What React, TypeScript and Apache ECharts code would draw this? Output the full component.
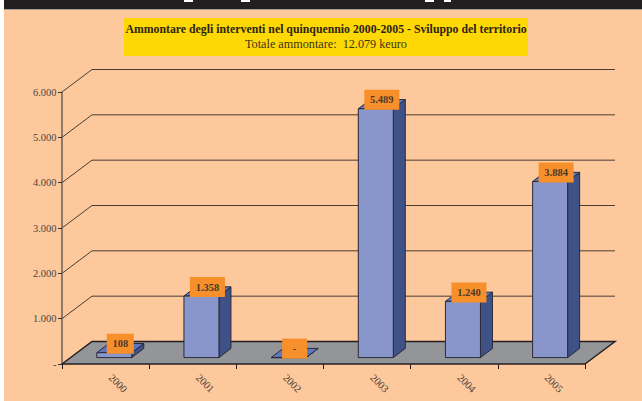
import React, { useEffect, useRef } from "react";
import * as echarts from "echarts";

const years = ["2000", "2001", "2002", "2003", "2004", "2005"];
const amounts = [108, 1358, 0, 5489, 1240, 3884];
const wallTicks = [1000, 2000, 3000, 4000, 5000, 6000];
const floorTick = [0];
const titleMain = "Ammontare degli interventi nel quinquennio 2000-2005 - Sviluppo del territorio";
const titleSub = "Totale ammontare:  12.079 keuro";

const FONT = "'Liberation Serif', serif";
const fmt = (v: number) => (v === 0 ? "-" : String(v).replace(/\B(?=(\d{3})+$)/g, "."));

export default function App() {
  const ref = useRef<HTMLDivElement>(null);
  useEffect(() => {
    const chart = echarts.init(ref.current!, null, { renderer: "svg" });
    const DX = 30, DY = 22.5;
    const wallRender = (_p: any, api: any) => {
      const [x, y] = api.coord([0, api.value(0)]);
      const cs = _p.coordSys;
      const left = cs.x, right = cs.x + cs.width;
      return {
        type: "polyline",
        shape: { points: [[left, y], [left + DX, y - DY], [right + DX, y - DY]] },
        style: { fill: "none", stroke: "#4a3d32", lineWidth: 1 },
      };
    };
    const floorRender = (p: any, api: any) => {
      const cs = p.coordSys;
      const y = api.coord([0, api.value(0)])[1];
      const l = cs.x, r = cs.x + cs.width;
      return {
        type: "group",
        children: [
          { type: "polygon", shape: { points: [[l, y], [l + DX, y - DY], [r + DX, y - DY], [r, y]] }, style: { fill: "#939598", stroke: "none" } },
          { type: "polyline", shape: { points: [[l, y], [l + DX, y - DY], [r + DX, y - DY], [r, y]] }, style: { fill: "none", stroke: "#231f20", lineWidth: 1.5 } },
        ],
      };
    };
    const barRender = (p: any, api: any) => {
      const [cx, top0] = api.coord([api.value(0), api.value(1)]);
      const bot0 = api.coord([api.value(0), 0])[1];
      const hw = 17.5, ox = 8.7, oy = 6.4, dx = 12, dy = 9.2;
      const c = cx + ox, t = top0 - oy, b = bot0 - oy;
      const l = c - hw, r = c + hw;
      const stroke = { stroke: "#2a2a38", lineWidth: 1 };
      return {
        type: "group",
        children: [
          { type: "polygon", shape: { points: [[r, t], [r + dx, t - dy], [r + dx, b - dy], [r, b]] }, style: { fill: "#3f5288", ...stroke } },
          { type: "polygon", shape: { points: [[l, t], [l + dx, t - dy], [r + dx, t - dy], [r, t]] }, style: { fill: "#5f76bd", ...stroke } },
          { type: "rect", shape: { x: l, y: t, width: 2 * hw, height: b - t }, style: { fill: "#8896cc", ...stroke } },
        ],
      };
    };
    const labelRender = (p: any, api: any) => {
      const v = api.value(1);
      const [cx, top0] = api.coord([api.value(0), v]);
      const text = fmt(v);
      const w = text.length >= 5 ? 35 : text.length >= 3 ? 27 : 25;
      const x = cx + 14.7, y = top0 - 15.4;
      return {
        type: "group",
        children: [
          { type: "rect", shape: { x: x - w / 2, y: y - 10, width: w, height: 20 }, style: { fill: "#f78f2b" } },
          { type: "text", style: { x, y, text, align: "center", verticalAlign: "middle", font: `bold 10.5px ${FONT}`, fill: "#4a3a28" } },
        ],
      };
    };
    chart.setOption({
      animation: false,
      backgroundColor: "#ffffff",
      title: {
        text: titleMain,
        subtext: titleSub,
        left: 326,
        top: 23,
        textAlign: "center",
        itemGap: 3,
        textStyle: { fontFamily: FONT, fontSize: 11.8, fontWeight: "bold", color: "#2d2410" },
        subtextStyle: { fontFamily: FONT, fontSize: 12.2, fontWeight: "normal", color: "#3d3418" },
        padding: 0,
      },
      graphic: [
        { type: "rect", z: -10, shape: { x: 4, y: 0, width: 638, height: 401 }, style: { fill: "#fdc89b" } },
        { type: "rect", z: -9, shape: { x: 4, y: 0, width: 638, height: 9 }, style: { fill: "#231f20" } },
        { type: "rect", z: -9, shape: { x: 4, y: 9, width: 638, height: 1 }, style: { fill: "#a8a09a" } },
        { type: "rect", z: -8, shape: { x: 184, y: 0, width: 9, height: 2 }, style: { fill: "#ffffff" } },
        { type: "rect", z: -8, shape: { x: 241, y: 0, width: 9, height: 2 }, style: { fill: "#ffffff" } },
        { type: "rect", z: -8, shape: { x: 425, y: 0, width: 9, height: 2 }, style: { fill: "#ffffff" } },
        { type: "rect", z: -8, shape: { x: 444, y: 0, width: 7, height: 2 }, style: { fill: "#ffffff" } },
        { type: "rect", z: -8, shape: { x: 124, y: 18, width: 404, height: 38 }, style: { fill: "#fdd805" } },
      ],
      grid: { left: 62, right: 57, top: 92, bottom: 37, containLabel: false },
      xAxis: {
        type: "category",
        data: years,
        boundaryGap: true,
        axisLine: { onZero: false, lineStyle: { color: "#231f20", width: 1.5 } },
        axisTick: { show: true, length: 5, alignWithLabel: false, lineStyle: { color: "#231f20" } },
        axisLabel: { rotate: -45, margin: 7, padding: [0, 0, 0, 7], fontFamily: FONT, fontSize: 10.5, color: "#4a4038", interval: 0 },
        splitLine: { show: false },
        z: 5,
      },
      yAxis: {
        type: "value",
        min: 0,
        max: 6000,
        interval: 1000,
        axisLine: { show: true, lineStyle: { color: "#6d5f52", width: 1.5 } },
        axisTick: { show: true, length: 4, lineStyle: { color: "#3a3028" } },
        axisLabel: { margin: 5.5, fontFamily: FONT, fontSize: 10.5, fontWeight: "normal", color: "#4f453c", formatter: (v: number) => fmt(v) },
        splitLine: { show: false },
        z: 5,
      },
      series: [
        { type: "custom", name: "wall", z: 1, silent: true, clip: false, renderItem: wallRender, data: wallTicks.map((v) => [v]), encode: { y: 0 } },
        { type: "custom", name: "floor", z: 2, silent: true, clip: false, renderItem: floorRender, data: floorTick.map((v) => [v]), encode: { y: 0 } },
        { type: "custom", name: "amounts", z: 3, clip: false, renderItem: barRender, data: amounts.map((v, i) => [i, v]), encode: { x: 0, y: 1 } },
        { type: "custom", name: "labels", z: 4, clip: false, renderItem: labelRender, data: amounts.map((v, i) => [i, v]), encode: { x: 0, y: 1 } },
      ],
    });
    return () => chart.dispose();
  }, []);
  return <div ref={ref} style={{ position: "fixed", left: 0, top: 0, width: 642, height: 401 }} />;
}
